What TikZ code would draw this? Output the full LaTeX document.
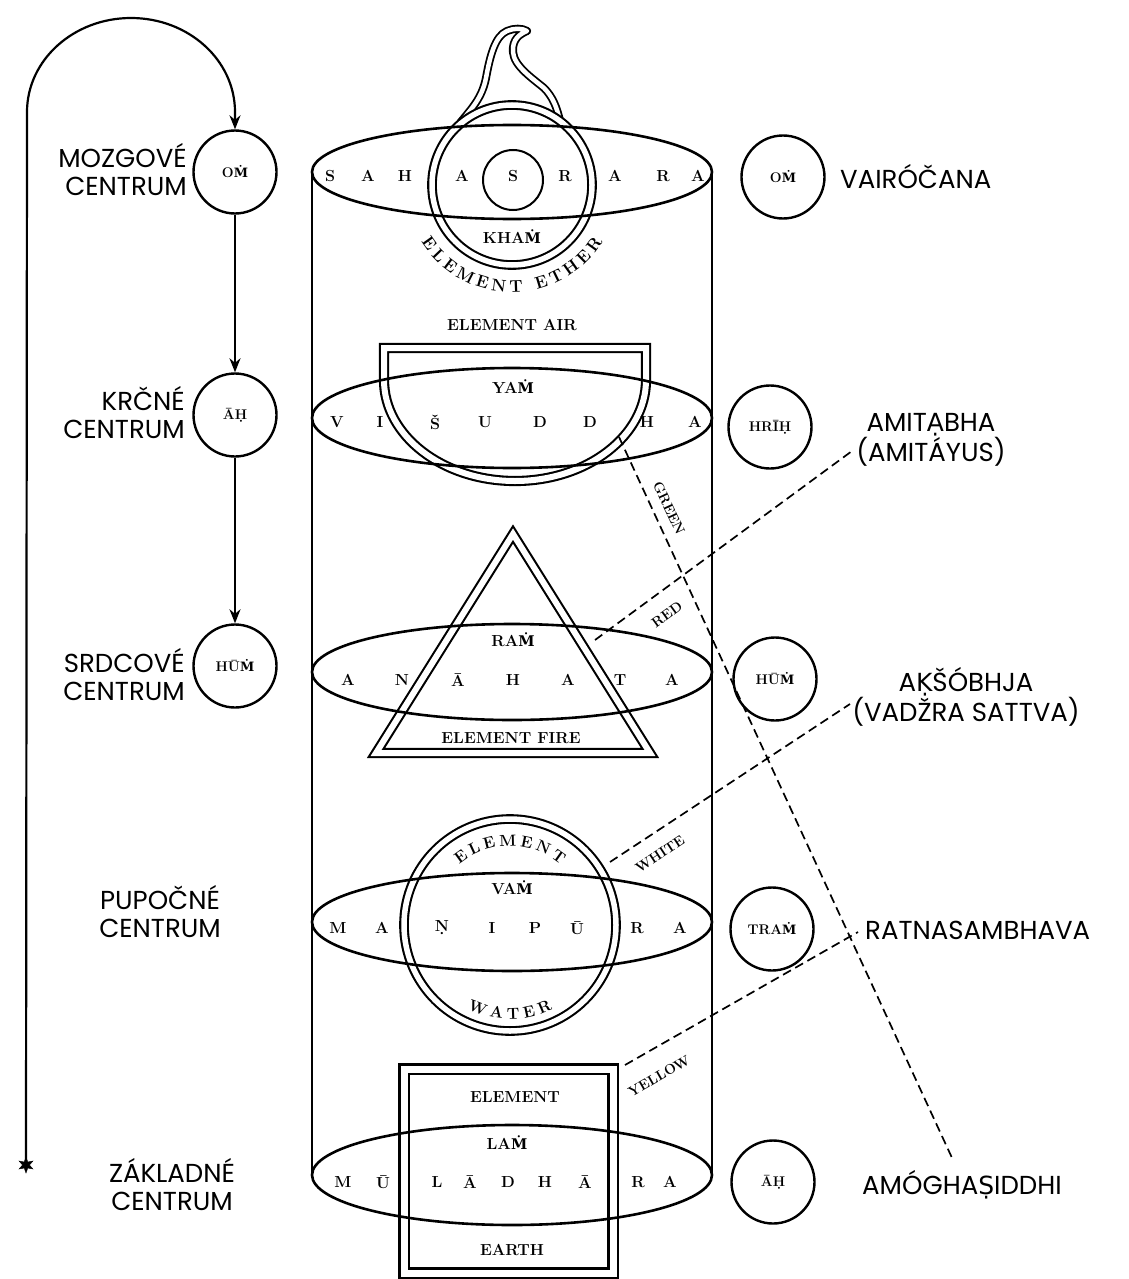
\documentclass[tikz,border=0pt]{standalone}
\usepackage{fontspec}
\newfontfamily\labfont{Poppins}
\newfontfamily\dvserif[Scale=0.92]{DejaVu Serif}
\newfontfamily\dvsans[Scale=0.96]{DejaVu Sans}
\newcommand\Mdot{{\dvserif Ṁ}}
\usetikzlibrary{arrows.meta,decorations.text,shapes.geometric}
\tikzset{
 wall/.style={line width=2.6pt},
 chakra/.style={line width=2.6pt},
 dbl/.style={double, line width=2.1pt, double distance=5.5pt},
 seedc/.style={circle, draw, line width=2.4pt, minimum size=83pt, inner sep=0pt, font=\fontsize{14}{14}\selectfont\bfseries},
 sl/.style={font=\labfont\fontsize{26}{28}\selectfont, inner sep=0pt},
 lt/.style={font=\fontsize{16}{16}\selectfont\bfseries, inner sep=0pt},
 el/.style={font=\fontsize{16}{16}\selectfont\bfseries\addfontfeatures{LetterSpace=4}, inner sep=0pt},
 dl/.style={dashed, dash pattern=on 9pt off 5pt, line width=1.7pt},
 col/.style={font=\fontsize{14}{14}\selectfont\bfseries\addfontfeatures{LetterSpace=5}, inner sep=0pt},
 arr/.style={line width=2.2pt, -{Stealth[length=14pt,width=11pt]}},
}
\begin{document}
\begin{tikzpicture}[x=1pt,y=-1pt]
\useasboundingbox (0,0) rectangle (1128,1279);

% ---- shapes inside the column
\draw[dbl, line width=1.8pt, double distance=4.5pt, line join=round]
 (460,123) .. controls (472,108) and (482,98) .. (486,78)
 .. controls (490,56) and (495,36) .. (507,31)
 .. controls (514,28) and (522,28) .. (527,31)
 .. controls (520,34) and (512,39) .. (513,52)
 .. controls (514,66) and (532,78) .. (544,88)
 .. controls (553,97) and (557,108) .. (560,121);
\draw[dbl] (512,185) circle[radius=80];
\draw[line width=2pt] (513,180) circle[radius=30];

\draw[dbl, double distance=6pt] (384,348) -- (646,348) -- (646,380)
 arc[start angle=0,end angle=180,x radius=131,y radius=101] -- cycle;

\draw[dbl, double distance=6pt, line join=miter] (513,534) -- (650,753) -- (376,753) -- cycle;

\draw[dbl] (510,925) circle[radius=106];

\draw[dbl, double distance=7pt] (404,1069) rectangle (613,1273);

% ---- chakra ellipses and column walls
\foreach \y/\r in {172/47,418/50,672/48,922/49,1175/50}
  \draw[chakra] (512,\y) ellipse[x radius=200, y radius=\r];
\draw[wall] (312,172) -- (312,1175);
\draw[wall] (712,172) -- (712,1175);

% ---- letters
\foreach \x/\l [count=\i] in {330/S,368/A,405/H,462/A,513/S,565/R,615/A,663/R,698/A}
  \node[lt] (sah\i) at (\x,176) {\l};
\foreach \x/\l [count=\i] in {337/V,380/I,435/Š,485/U,540/D,590/D,647/H,695/A}
  \node[lt] (vis\i) at (\x,422) {\l};
\foreach \x/\l [count=\i] in {348/A,402/N,458/Ā,513/H,568/A,620/T,672/A}
  \node[lt] (ana\i) at (\x,680) {\l};
\foreach \x/\l [count=\i] in {338/M,382/A,442/Ṇ,492/I,535/P,577/Ū,637/R,680/A}
  \node[lt] (man\i) at (\x,928) {\l};
\foreach \x/\l [count=\i] in {343/M,383/Ū,437/L,470/Ā,508/D,545/H,585/Ā,638/R,670/A}
  \node[lt] (mul\i) at (\x,1182) {\l};

\node[el] (kham) at (512,237) {KHA\Mdot};
\path[decorate, decoration={text along path, text={|\fontsize{17}{17}\selectfont\bfseries|ELEMENT ETHER}, text align={fit to path}}]
  ([shift={(148:107)}]512,185) arc[start angle=148, end angle=32, radius=107];

\node[el] (eair) at (512,325) {ELEMENT AIR};
\node[el] (yam) at (513,387) {YA\Mdot};
\node[el] (ram) at (513,640) {RA\Mdot};
\node[el] (efire) at (511,738) {ELEMENT FIRE};
\node[el] (vam) at (512,888) {VA\Mdot};
\path[decorate, decoration={text along path, text={|\fontsize{16}{16}\selectfont\bfseries|ELEMENT}, text align={fit to path}}]
  ([shift={(230:79)}]510,925) arc[start angle=230, end angle=310, radius=79];
\path[decorate, decoration={text along path, text={|\fontsize{16}{16}\selectfont\bfseries|WATER}, text align={fit to path}}]
  ([shift={(117:94)}]510,925) arc[start angle=117, end angle=63, radius=94];
\node[el] (eearth) at (515,1097) {ELEMENT};
\node[el] (lam) at (507,1143) {LA\Mdot};
\node[el] (earth) at (512,1250) {EARTH};

% ---- seed circles
\node[seedc] (lom) at (235,172) {O\Mdot};
\node[seedc] (lah) at (235,415) {ĀḤ};
\node[seedc] (lhum) at (235,666) {HŪ\Mdot};
\node[seedc] (rom) at (783,177) {O\Mdot};
\node[seedc] (rhrih) at (770,427) {HRĪḤ};
\node[seedc] (rhum) at (775,679) {HŪ\Mdot};
\node[seedc] (rtram) at (772,929) {TRA\Mdot};
\node[seedc] (rah) at (773,1182) {ĀḤ};

% ---- left labels
\node[sl, anchor=east, align=right] (tmoz) at (187,170) {MOZGOVÉ\\CENTRUM};
\node[sl, anchor=east, align=right] (tkrc) at (185,413) {KRČNÉ\\CENTRUM};
\node[sl, anchor=east, align=right] (tsrd) at (185,675) {SRDCOVÉ\\CENTRUM};
\node[sl, align=center] (tpup) at (160,912) {PUPOČNÉ\\CENTRUM};
\node[sl, align=center] (tzak) at (172,1185) {ZÁKLADNÉ\\CENTRUM};

% ---- right labels
\node[sl, anchor=west] (tvai) at (840,177) {VAIRÓČANA};
\node[sl, align=center] (tami) at (931,440) {AMIT{\dvsans Ạ}BHA\\(AMITÁYUS)};
\node[sl, align=center] (taks) at (966,697) {A{\dvsans Ḳ}ŠÓBHJA\\(VADŽRA SATTVA)};
\node[sl, anchor=west] (trat) at (865,930) {RATNASAMBHAVA};
\node[sl, anchor=west] (tamo) at (862,1185) {AMÓGHA{\dvsans Ṣ}IDDHI};

% ---- left loop and arrows
\node[star, star points=6, star point ratio=2.3, fill, draw, inner sep=0pt, minimum size=16pt] (lstar) at (26,1165) {};
\draw[arr] (lstar.center) -- (27,112) arc[start angle=180, end angle=360, x radius=104, y radius=94] -- (lom.north);
\draw[arr] (lom.south) -- (lah.north);
\draw[arr] (lah.south) -- (lhum.north);

% ---- dashed colour lines
\coordinate (g1) at (619,437); \coordinate (g2) at (953,1160);
\coordinate (r1) at (595,640); \coordinate (r2) at (852,451);
\coordinate (w1) at (610,862); \coordinate (w2) at (850,704);
\coordinate (y1) at (625,1065); \coordinate (y2) at (858,932);
\draw[dl] (g1) -- (g2);
\draw[dl] (r1) -- (r2);
\draw[dl] (w1) -- (w2);
\draw[dl] (y1) -- (y2);
\node[col, rotate=-65] (lgreen) at (669,508) {GREEN};
\node[col, rotate=36] (lred) at (667,615) {RED};
\node[col, rotate=33.5] (lwhite) at (660,854) {WHITE};
\node[col, rotate=30] (lyellow) at (659,1076) {YELLOW};
\end{tikzpicture}
\end{document}
